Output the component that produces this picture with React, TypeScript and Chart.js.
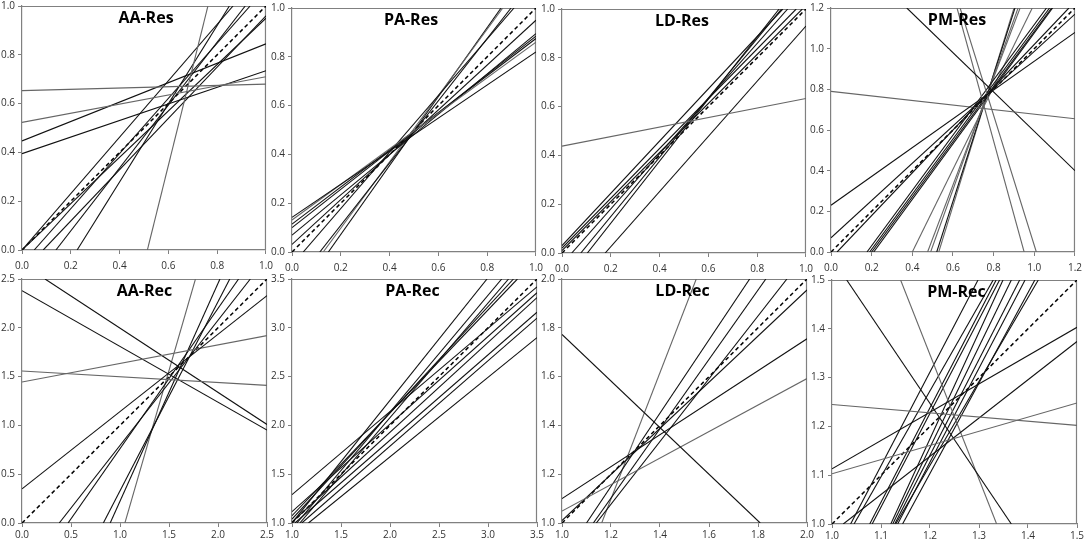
import React, { useEffect, useRef } from "react";
import { Chart, registerables } from "chart.js";

Chart.register(...registerables);

// each line: [x1, y1, x2, y2] (data units)
type Seg = [number, number, number, number];

const aaResLines: Seg[] = [
  [0.514, 0, 0.762, 1],
  [0, 0.653, 1, 0.68],
  [0, 0.523, 1, 0.71],
  [0, 0.447, 1, 0.845],
  [0, 0.395, 1, 0.735],
  [0.226, 0, 0.85, 1],
  [0, 0, 0.865, 1],
  [0.139, 0, 0.915, 1],
  [0.05, 0, 0.935, 1],
  [0.087, 0, 1, 0.96],
  [0, 0, 1, 0.95],
];

const paResLines: Seg[] = [
  [0, 0.142, 1, 0.82],
  [0, 0.131, 1, 0.86],
  [0, 0.114, 1, 0.875],
  [0, 0.1, 1, 0.885],
  [0, 0.069, 1, 0.895],
  [0, 0.031, 1, 0.95],
  [0.046, 0, 0.91, 1],
  [0.114, 0, 0.898, 1],
  [0.128, 0, 0.864, 1],
  [0.149, 0, 0.857, 1],
];

const ldResLines: Seg[] = [
  [0, 0.438, 1, 0.633],
  [0.177, 0, 1, 0.93],
  [0.104, 0, 0.89, 1],
  [0.077, 0, 0.9, 1],
  [0.04, 0, 0.925, 1],
  [0, 0.03, 0.905, 1],
  [0, 0.02, 0.96, 1],
  [0, 0.01, 0.985, 1],
];

const pmResLines: Seg[] = [
  [0, 0.23, 1.2, 1.08],
  [0, 0.07, 1.2, 1.17],
  [0, 0.79, 1.2, 0.655],
  [0.373, 1.2, 1.2, 0.4],
  [0.62, 1.2, 0.95, 0],
  [0.635, 1.2, 1.01, 0],
  [0.177, 0, 1.06, 1.2],
  [0.19, 0, 1.075, 1.2],
  [0.2, 0, 1.085, 1.2],
  [0.21, 0, 1.09, 1.2],
  [0.4, 0, 0.99, 1.2],
  [0.475, 0, 0.93, 1.2],
  [0.49, 0, 0.92, 1.2],
  [0.52, 0, 0.905, 1.2],
  [0.53, 0, 0.9, 1.2],
  [0.03, 0, 1.17, 1.2],
];

const aaRecLines: Seg[] = [
  [0, 0.35, 2.5, 2.33],
  [0, 1.445, 2.5, 1.92],
  [0, 1.558, 2.5, 1.41],
  [0, 2.38, 2.5, 0.952],
  [0.235, 2.5, 2.5, 1.01],
  [0.38, 0, 2.33, 2.5],
  [0.47, 0, 2.21, 2.5],
  [0.83, 0, 2.12, 2.5],
  [0.9, 0, 2.02, 2.5],
  [1.05, 0, 1.77, 2.5],
];

const paRecLines: Seg[] = [
  [1, 1.29, 3.5, 3.42],
  [1, 1.0, 2.99, 3.5],
  [1.05, 1, 3.14, 3.5],
  [1.08, 1, 3.21, 3.5],
  [1, 1.04, 3.26, 3.5],
  [1, 1.075, 3.3, 3.5],
  [1, 1.116, 3.5, 3.36],
  [1, 1.01, 3.5, 3.31],
  [1.03, 1, 3.5, 3.16],
  [1.1, 1, 3.5, 3.1],
  [1.168, 1, 3.5, 2.9],
];

const ldRecLines: Seg[] = [
  [1, 1.773, 1.809, 1],
  [1, 1.1, 2, 1.755],
  [1, 1.049, 2, 1.592],
  [1, 1.01, 2, 1.955],
  [1.1, 1, 1.766, 2],
  [1.128, 1, 1.832, 2],
  [1.14, 1, 1.918, 2],
  [1.162, 1, 1.548, 2],
];

const pmRecLines: Seg[] = [
  [1, 1.245, 1.5, 1.202],
  [1, 1.113, 1.5, 1.403],
  [1, 1.103, 1.5, 1.248],
  [1.023, 1, 1.5, 1.374],
  [1.03, 1.5, 1.366, 1],
  [1.14, 1.5, 1.336, 1],
  [1.038, 1, 1.298, 1.5],
  [1.045, 1, 1.329, 1.5],
  [1.077, 1, 1.335, 1.5],
  [1.082, 1, 1.342, 1.5],
  [1.12, 1, 1.349, 1.5],
  [1.124, 1, 1.366, 1.5],
  [1.128, 1, 1.383, 1.5],
  [1.134, 1, 1.394, 1.5],
  [1.144, 1, 1.414, 1.5],
  [1.13, 1, 1.421, 1.5],
];

const titles = ["AA-Res", "PA-Res", "LD-Res", "PM-Res", "AA-Rec", "PA-Rec", "LD-Rec", "PM-Rec"];
const allLines = [aaResLines, paResLines, ldResLines, pmResLines, aaRecLines, paRecLines, ldRecLines, pmRecLines];
// axis range [min, max, step], same for x and y
const ranges: [number, number, number][] = [
  [0, 1, 0.2],
  [0, 1, 0.2],
  [0, 1, 0.2],
  [0, 1.2, 0.2],
  [0, 2.5, 0.5],
  [1, 3.5, 0.5],
  [1, 2, 0.2],
  [1, 1.5, 0.1],
];

// styling / layout
const grayLines = [[0, 1, 2], [1, 8], [0], [2, 4, 5, 10, 11, 12, 14], [1, 2, 9], [], [2, 7], [0, 2, 5]];
const plotPos: [number, number][] = [
  [22, 5], [292, 7], [562, 8], [831, 7],
  [22, 278], [292, 278], [562, 278], [832, 279],
];
const titleDx = [2, -3, -2, 4, 0, -2, -2, 2];

const PLOT = 245;
const YW = 26;
const XH = 24;
const PADT = 8;
const PADR = 12;
const AXIS = "#808080";

const Panel = ({ idx }: { idx: number }) => {
  const canvasRef = useRef<HTMLCanvasElement | null>(null);
  const [min, max, step] = ranges[idx];
  const [pl, pt] = plotPos[idx];
  const w = YW + PLOT + PADR;
  const h = PADT + PLOT + XH;
  const topRow = idx < 4;

  useEffect(() => {
    const ctx = canvasRef.current?.getContext("2d");
    if (!ctx) return;

    const datasets: any[] = allLines[idx].map((s, i) => ({
      data: [
        { x: s[0], y: s[1] },
        { x: s[2], y: s[3] },
      ],
      borderColor: grayLines[idx].includes(i) ? "#666666" : "#111111",
      borderWidth: 1.1,
      pointRadius: 0,
      showLine: true,
      fill: false,
    }));
    // 1:1 reference line
    datasets.push({
      data: [
        { x: min, y: min },
        { x: max, y: max },
      ],
      borderColor: "#000",
      borderWidth: 1.5,
      borderDash: [4, 3],
      pointRadius: 0,
      showLine: true,
      fill: false,
    });

    const axis = (horizontal: boolean) => ({
      type: "linear" as const,
      min,
      max,
      border: { display: true, color: AXIS, width: 1.2 },
      grid: { display: true, drawOnChartArea: false, drawTicks: true, tickLength: 4, color: AXIS },
      ticks: {
        stepSize: step,
        autoSkip: false,
        maxRotation: 0,
        padding: horizontal ? (topRow ? 6 : 2) : 3,
        color: "#333333",
        font: { family: "'Open Sans'", size: 10 },
        callback: (v: any) => Number(v).toFixed(1),
      },
      afterFit: (scale: any) => {
        if (horizontal) scale.height = XH;
        else scale.width = YW;
      },
    });

    const decor = {
      id: "decor",
      beforeDatasetsDraw(chart: any) {
        const { ctx: c, chartArea: a } = chart;
        c.save();
        c.strokeStyle = AXIS;
        c.lineWidth = 1.2;
        c.beginPath();
        c.moveTo(a.left, a.top + 0.5);
        c.lineTo(a.right - 0.5, a.top + 0.5);
        c.lineTo(a.right - 0.5, a.bottom);
        c.stroke();
        c.restore();
      },
      afterDatasetsDraw(chart: any) {
        const { ctx: c, chartArea: a } = chart;
        c.save();
        c.font = "bold 16px 'Open Sans'";
        c.fillStyle = "#000";
        c.textAlign = "center";
        c.textBaseline = "middle";
        c.fillText(titles[idx], (a.left + a.right) / 2 + titleDx[idx], a.top + 12);
        c.restore();
      },
    };

    const chart = new Chart(ctx, {
      type: "scatter",
      data: { datasets },
      options: {
        responsive: false,
        animation: false,
        events: [],
        layout: { padding: { top: PADT, right: PADR, left: 0, bottom: 0 } },
        plugins: { legend: { display: false }, tooltip: { enabled: false } },
        scales: { x: axis(true), y: axis(false) } as any,
      },
      plugins: [decor],
    });

    return () => chart.destroy();
  }, []);

  return (
    <canvas
      ref={canvasRef}
      width={w}
      height={h}
      style={{ position: "absolute", left: pl - YW, top: pt - PADT, width: w, height: h }}
    />
  );
};

export default function App() {
  return (
    <div style={{ position: "absolute", left: 0, top: 0, width: 1084, height: 545, background: "#fff", overflow: "hidden" }}>
      {titles.map((_, i) => (
        <Panel key={i} idx={i} />
      ))}
    </div>
  );
}
